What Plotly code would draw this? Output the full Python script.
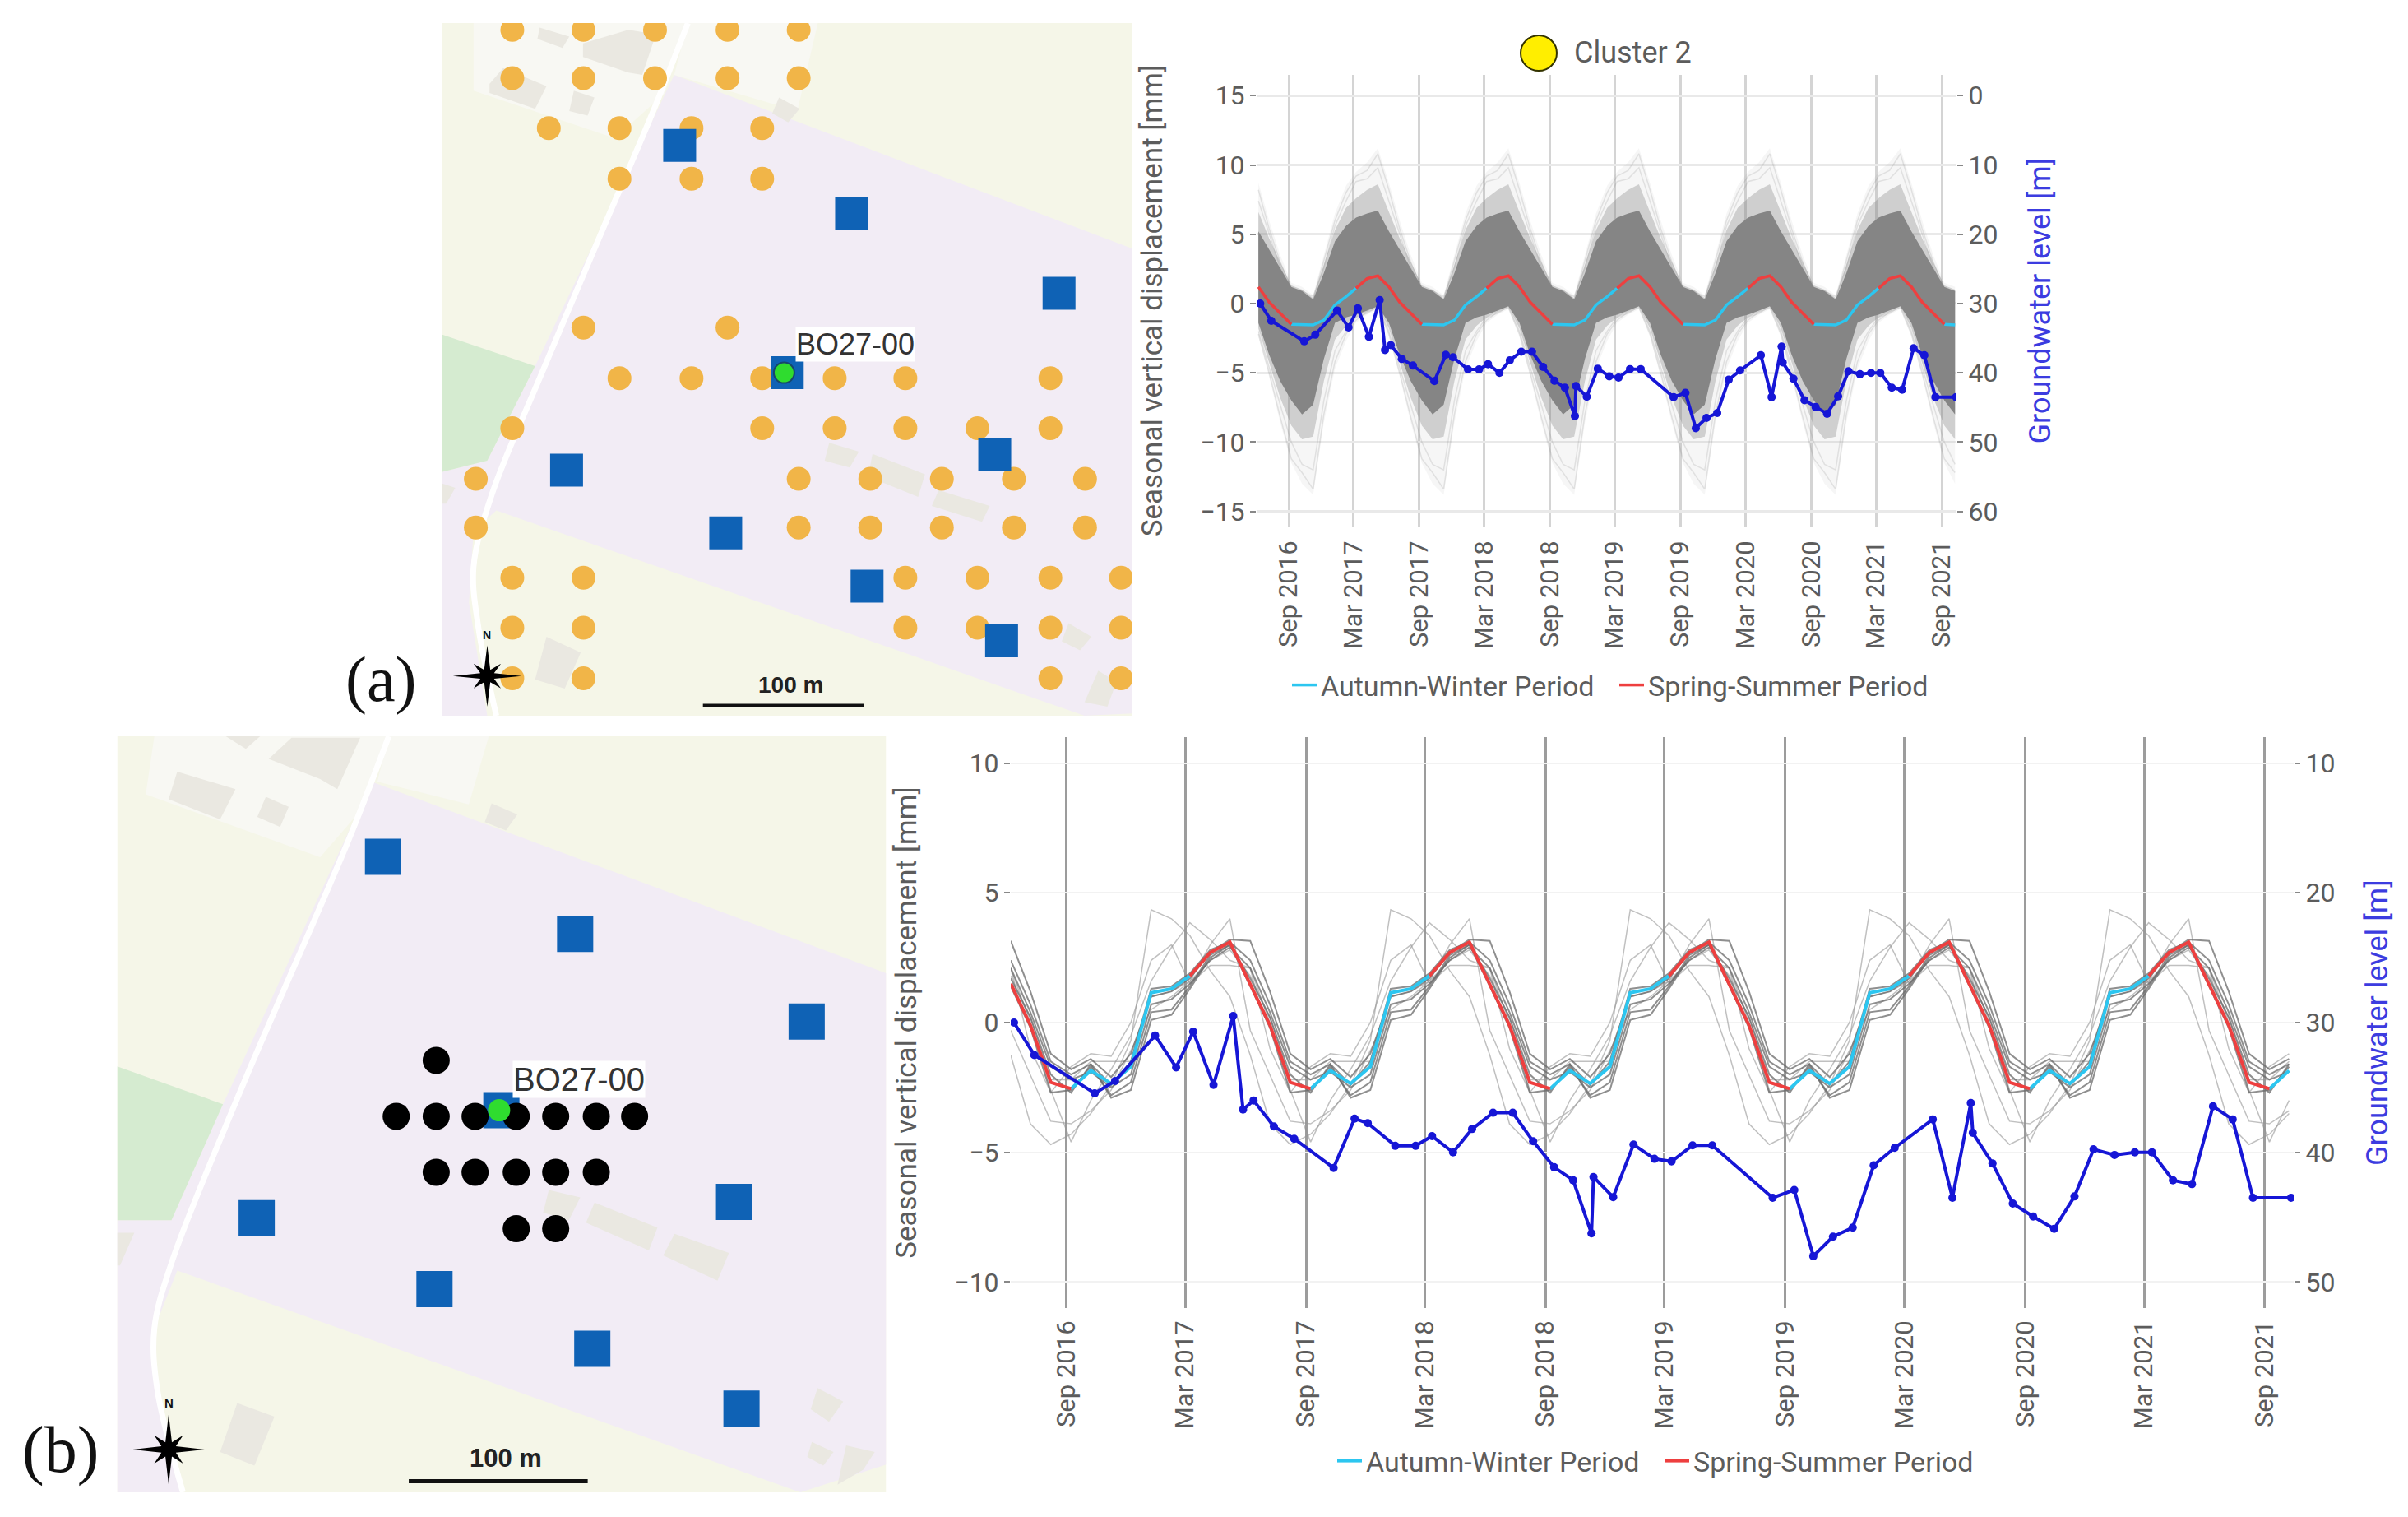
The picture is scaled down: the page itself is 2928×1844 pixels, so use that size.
import plotly.graph_objects as go

W, H = 2928, 1844
FONT = "Roboto"
TEXT = "#5c5c5c"
GW_BLUE = "#1616d6"
GW_TITLE = "#3c3ce0"
CYAN = "#2cc6f0"
RED = "#ee3f3f"

# monthly dates of the seasonal series, Jun 2016 - Oct 2021
dates = [f"{2016 + (5 + i) // 12}-{(5 + i) % 12 + 1:02d}-08" for i in range(65)]
tick_dates = ["2016-09-01", "2017-03-01", "2017-09-01", "2018-03-01", "2018-09-01", "2019-03-01",
              "2019-09-01", "2020-03-01", "2020-09-01", "2021-03-01", "2021-09-01"]
tick_text = ["Sep 2016", "Mar 2017", "Sep 2017", "Mar 2018", "Sep 2018", "Mar 2019",
             "Sep 2019", "Mar 2020", "Sep 2020", "Mar 2021", "Sep 2021"]

# groundwater level [m], same well in both panels
gw_dates = ["2016-06-13", "2016-07-14", "2016-10-14", "2016-11-14", "2017-01-14", "2017-02-15",
            "2017-03-13", "2017-04-13", "2017-05-13", "2017-05-28", "2017-06-13", "2017-07-14",
            "2017-08-14", "2017-10-13", "2017-11-14", "2017-12-04", "2018-01-15", "2018-02-15",
            "2018-03-12", "2018-04-13", "2018-05-12", "2018-06-13", "2018-07-13", "2018-08-13",
            "2018-09-14", "2018-10-13", "2018-11-10", "2018-11-13", "2018-12-13", "2019-01-13",
            "2019-02-14", "2019-03-12", "2019-04-13", "2019-05-13", "2019-08-13", "2019-09-15",
            "2019-10-14", "2019-11-13", "2019-12-13", "2020-01-14", "2020-02-15", "2020-04-13",
            "2020-05-13", "2020-06-10", "2020-06-13", "2020-07-13", "2020-08-13", "2020-09-13",
            "2020-10-15", "2020-11-15", "2020-12-14", "2021-01-15", "2021-02-15", "2021-03-13",
            "2021-04-14", "2021-05-13", "2021-06-14", "2021-07-14", "2021-08-14", "2021-10-11"]
gw_level = [30, 32.5, 35.45, 34.5, 31, 33.45, 30.7, 34.8, 29.5, 36.7, 36, 38, 38.95, 41.2, 37.4, 37.75,
            39.5, 39.5, 38.75, 40, 38.2, 36.95, 36.95, 39.15, 41.15, 42.15, 46.25, 41.9, 43.45, 39.4,
            40.5, 40.7, 39.46, 39.46, 43.5, 42.9, 48, 46.5, 45.8, 41, 39.65, 37.46, 43.5, 36.2, 38.5,
            40.85, 43.95, 44.95, 45.9, 43.4, 39.77, 40.2, 40, 40, 42.15, 42.45, 36.45, 37.46, 43.5, 43.5]

# one seasonal year, Jun to May
a_mean = [1.2, 0.1, -0.7, -1.5, -1.55, -1.55, -1.2, -0.1, 0.5, 1.1, 1.8, 2.0]
a_dense_up = [5.2, 3.9, 2.5, 1.2, 0.9, 0.3, 2.2, 4.5, 5.6, 6.2, 6.5, 6.7]
a_dense_lo = [-1.4, -3.7, -5.6, -7.0, -8.0, -7.3, -4.0, -1.4, -1.0, -0.8, -0.5, -0.2]
a_mid_up = [6.6, 4.7, 3.0, 1.3, 1.0, 0.4, 2.8, 5.3, 6.9, 7.6, 8.2, 8.6]
a_mid_lo = [-1.8, -4.3, -6.8, -8.8, -9.8, -9.6, -5.6, -2.6, -1.6, -1.0, -0.6, -0.2]
a_faint_up = [8.7, 6.0, 3.5, 1.5, 1.2, 0.6, 3.5, 6.5, 8.5, 9.5, 10.2, 11.2]
a_faint_lo = [-2.4, -5.3, -8.6, -11.5, -13.0, -13.8, -8.6, -4.7, -2.7, -1.4, -0.8, -0.4]
# a few of the outlying points of the cluster, visible at the tips of the cloud
a_outliers = [[8.2, 5.4, 3.0, 1.1, 0.8, 0.3, 3.1, 6.0, 8.0, 9.2, 9.6, 10.8],
              [7.4, 5.0, 2.6, 0.9, 0.9, 0.5, 2.6, 5.6, 7.4, 8.8, 9.0, 9.8],
              [-2.2, -5.0, -8.2, -11.2, -12.2, -13.4, -8.0, -4.2, -2.2, -1.2, -0.6, -0.3],
              [-2.0, -4.6, -7.4, -10.0, -11.6, -12.0, -7.0, -3.4, -2.0, -1.0, -0.7, -0.2]]

# panel (b): mean of the cluster and the ten series around it, Jun to May
b_mean = [1.5, -0.1, -2.3, -2.55, -1.85, -2.35, -1.7, 1.15, 1.3, 1.8, 2.7, 3.1]
b_dark = [[3.15, 1.2, -1.2, -1.8, -1.4, -2.1, -1.2, 1.0, 1.2, 1.7, 2.7, 3.2],
          [1.7, 0.2, -2.0, -2.7, -1.6, -2.9, -2.6, 0.1, 0.3, 1.3, 2.5, 3.0],
          [1.4, -0.2, -2.7, -2.6, -1.7, -2.8, -2.3, 0.4, 0.5, 1.4, 2.6, 3.0],
          [2.1, 0.4, -1.7, -2.2, -1.9, -2.5, -2.0, 0.7, 0.9, 1.5, 2.4, 2.9],
          [2.4, 0.7, -1.5, -2.0, -1.6, -2.4, -1.5, 1.3, 1.4, 1.9, 2.8, 3.1]]
b_light = [[-1.25, -3.9, -4.7, -4.3, -3.5, -2.4, -0.7, 4.35, 4.0, 3.35, 2.0, 1.0],
           [2.1, 0.0, -2.6, -4.6, -3.0, -1.8, -0.5, 1.6, 2.9, 3.85, 3.2, 2.4],
           [-0.3, -2.0, -3.8, -3.9, -3.4, -2.6, -1.1, 0.5, 1.0, 1.6, 3.0, 4.0],
           [2.1, -1.0, -2.7, -1.7, -1.2, -1.3, 0.0, 2.4, 3.0, 1.5, 2.2, 2.2],
           [1.8, 0.2, -2.2, -2.2, -1.5, -1.5, -1.5, 1.0, 1.2, 1.6, 2.4, 2.8]]

# map (a), in map units
a_orange_x = [185, 341, 498, 657, 813, 185, 341, 498, 657, 813, 265, 420, 578, 733, 420, 578, 733, 341, 657,
              420, 578, 733, 892, 1047, 1365, 185, 733, 892, 1047, 1205, 1365,
              105, 813, 970, 1127, 1285, 1441, 105, 813, 970, 1127, 1285, 1441,
              185, 341, 1047, 1205, 1365, 1520, 185, 341, 1047, 1205, 1365, 1520, 185, 341, 1365, 1520]
a_orange_y = [30] * 5 + [137] * 5 + [248] * 4 + [360] * 3 + [690] * 2 + [802] * 6 + [913] * 6 + [1025] * 6 \
    + [1133] * 6 + [1244] * 6 + [1355] * 6 + [1467] * 4
a_wells_x = [552, 929, 1384, 788, 1243, 304, 653, 963, 1258]
a_wells_y = [286, 438, 614, 790, 972, 1006, 1145, 1263, 1384]
a_target = (781, 790)

# map (b), in map units
b_black_x = [763, 693, 763, 831, 903, 972, 1043, 1110, 763, 831, 903, 972, 1043, 903, 972]
b_black_y = [668] + [779] * 7 + [890] * 5 + [1002] * 2
b_wells_x = [670, 1006, 1411, 877, 1284, 449, 760, 1036, 1297]
b_wells_y = [264, 417, 591, 767, 949, 981, 1122, 1240, 1359]
b_target = (873, 767)

a_frame = [(30, 15), (1545, 15), (1545, 1550), (30, 1550)]
a_land = [(1545, 515), (1545, 1545), (1440, 1550), (150, 1095), (100, 1140), (90, 1300), (130, 1550), (30, 1550),
          (30, 1010), (130, 985), (235, 775), (540, 130)]
a_green = [(30, 705), (235, 775), (130, 985), (30, 1010)]
a_yards = [[(100, 15), (565, 15), (520, 170), (410, 270), (100, 165)], [(570, 15), (855, 15), (810, 210), (540, 130)]]
a_road = [(570, 15), (490, 220), (380, 480), (250, 790), (140, 1060), (100, 1220), (110, 1350), (150, 1550)]
a_houses = [[(245, 25), (310, 45), (295, 70), (240, 50)],
            [(340, 60), (440, 30), (500, 40), (470, 130), (440, 125), (340, 90)],
            [(135, 150), (165, 115), (260, 155), (235, 205), (135, 170)],
            [(320, 165), (365, 180), (350, 220), (310, 210)],
            [(770, 180), (815, 205), (790, 235), (755, 215)],
            [(880, 945), (945, 965), (925, 1000), (870, 985)],
            [(975, 970), (1090, 1015), (1075, 1065), (965, 1020)],
            [(1120, 1050), (1232, 1085), (1215, 1120), (1105, 1085)],
            [(260, 1375), (335, 1410), (300, 1490), (235, 1470)],
            [(1405, 1345), (1455, 1375), (1430, 1405), (1390, 1385)],
            [(1470, 1450), (1510, 1475), (1490, 1530), (1440, 1520)],
            [(30, 1035), (60, 1045), (40, 1080), (30, 1080)]]

b_frame = [(205, 25), (1550, 25), (1550, 1525), (205, 1525)]
b_land = [(1550, 495), (1550, 1470), (1400, 1525), (310, 1085), (270, 1200), (275, 1320), (320, 1525), (205, 1525),
          (205, 985), (300, 985), (390, 755), (650, 115)]
b_green = [(205, 680), (390, 755), (300, 985), (205, 985)]
b_yards = [[(270, 25), (680, 25), (640, 160), (560, 265), (255, 140)], [(680, 25), (855, 25), (820, 160), (660, 115)]]
b_road = [(680, 25), (610, 230), (420, 730), (300, 1070), (270, 1200), (275, 1320), (320, 1525)]
b_houses = [[(395, 25), (455, 25), (430, 50)],
            [(510, 28), (630, 28), (590, 130), (560, 110), (470, 70)],
            [(310, 95), (412, 130), (385, 190), (295, 150)],
            [(465, 145), (505, 165), (490, 205), (450, 185)],
            [(860, 158), (905, 180), (885, 212), (848, 195)],
            [(960, 925), (1015, 940), (995, 985), (950, 970)],
            [(1040, 950), (1150, 1000), (1135, 1045), (1025, 990)],
            [(1180, 1012), (1275, 1050), (1255, 1105), (1160, 1055)],
            [(415, 1348), (480, 1375), (445, 1472), (385, 1445)],
            [(1430, 1318), (1475, 1345), (1450, 1385), (1418, 1360)],
            [(1420, 1425), (1458, 1445), (1440, 1472), (1412, 1455)],
            [(1480, 1432), (1530, 1445), (1510, 1480), (1465, 1510)],
            [(205, 1010), (235, 1010), (210, 1075), (205, 1075)]]


def px_x(p):
    return p / W


def px_y(p):
    return 1 - p / H


def season(cycle):
    return (cycle * 6)[:65]


def band(upper, lower, color, xa, ya):
    up, lo = season(upper), season(lower)
    return go.Scatter(x=dates + dates[::-1], y=up + lo[::-1], mode="lines", fill="toself", fillcolor=color,
                      line=dict(width=0), hoverinfo="skip", showlegend=False, xaxis=xa, yaxis=ya)


def add_periods(values, width, xa, ya, legend):
    series = season(values)
    months = [int(d[5:7]) for d in dates]
    cold = [v if m >= 9 or m <= 3 else None for v, m in zip(series, months)]
    warm = [v if 3 <= m <= 9 else None for v, m in zip(series, months)]
    fig.add_trace(go.Scatter(x=dates, y=cold, mode="lines", name="Autumn-Winter Period", legend=legend,
                             line=dict(color=CYAN, width=width), xaxis=xa, yaxis=ya))
    fig.add_trace(go.Scatter(x=dates, y=warm, mode="lines", name="Spring-Summer Period", legend=legend,
                             line=dict(color=RED, width=width), xaxis=xa, yaxis=ya))


def add_gw(xa, ya, width, size):
    fig.add_trace(go.Scatter(x=gw_dates, y=gw_level, mode="lines+markers", showlegend=False,
                             line=dict(color=GW_BLUE, width=width), marker=dict(color=GW_BLUE, size=size),
                             xaxis=xa, yaxis=ya))


def poly(points, color, xa, ya):
    xs = [p[0] for p in points] + [points[0][0]]
    ys = [p[1] for p in points] + [points[0][1]]
    fig.add_trace(go.Scatter(x=xs, y=ys, mode="lines", fill="toself", fillcolor=color, line=dict(width=0),
                             hoverinfo="skip", showlegend=False, xaxis=xa, yaxis=ya))


def add_base_map(frame, land, green, yards, road, houses, xa, ya):
    poly(frame, "#f5f6e8", xa, ya)
    poly(land, "#f2ecf5", xa, ya)
    for yard in yards:
        poly(yard, "#f8f8f3", xa, ya)
    poly(green, "#d5ebd0", xa, ya)
    for house in houses:
        poly(house, "#eae8e1", xa, ya)
    fig.add_trace(go.Scatter(x=[p[0] for p in road], y=[p[1] for p in road], mode="lines", showlegend=False,
                             line=dict(color="white", width=7, shape="spline"), hoverinfo="skip", xaxis=xa, yaxis=ya))


def add_compass(cx, cy, long_x, long_y, xa, ya):
    star = []
    for dx, dy in [(0, -1), (0.09, -0.2), (0.4, -0.4), (0.2, -0.09), (1, 0), (0.2, 0.09), (0.4, 0.4), (0.09, 0.2),
                   (0, 1), (-0.09, 0.2), (-0.4, 0.4), (-0.2, 0.09), (-1, 0), (-0.2, -0.09), (-0.4, -0.4), (-0.09, -0.2)]:
        star.append((cx + dx * long_x, cy + dy * long_y))
    poly(star, "black", xa, ya)


fig = go.Figure()

# panel (a) chart
fig.add_trace(band(a_faint_up, a_faint_lo, "rgba(128,128,128,0.07)", "x", "y"))
for line in a_outliers:
    fig.add_trace(go.Scatter(x=dates, y=season(line), mode="lines", showlegend=False, hoverinfo="skip",
                             line=dict(color="rgba(128,128,128,0.18)", width=1.5), xaxis="x", yaxis="y"))
fig.add_trace(band(a_mid_up, a_mid_lo, "rgba(128,128,128,0.33)", "x", "y"))
fig.add_trace(band(a_dense_up, a_dense_lo, "#858585", "x", "y"))
add_periods(a_mean, 3.5, "x", "y", "legend")
add_gw("x", "y2", 4, 10)

# panel (b) chart
for line in b_light:
    fig.add_trace(go.Scatter(x=dates, y=season(line), mode="lines", showlegend=False, hoverinfo="skip",
                             line=dict(color="rgba(150,150,150,0.6)", width=1.5), xaxis="x2", yaxis="y3"))
for line in b_dark:
    fig.add_trace(go.Scatter(x=dates, y=season(line), mode="lines", showlegend=False, hoverinfo="skip",
                             line=dict(color="rgba(105,105,105,0.75)", width=2), xaxis="x2", yaxis="y3"))
add_periods(b_mean, 4, "x2", "y3", "legend2")
add_gw("x2", "y4", 4, 10)

# map (a)
add_base_map(a_frame, a_land, a_green, a_yards, a_road, a_houses, "x3", "y5")
fig.add_trace(go.Scatter(x=a_orange_x, y=a_orange_y, mode="markers", showlegend=False, xaxis="x3", yaxis="y5",
                         marker=dict(color="#f1b548", size=29)))
fig.add_trace(go.Scatter(x=a_wells_x, y=a_wells_y, mode="markers", showlegend=False, xaxis="x3", yaxis="y5",
                         marker=dict(color="#0f62b5", size=40, symbol="square")))
fig.add_trace(go.Scatter(x=[a_target[0]], y=[a_target[1]], mode="markers", showlegend=False, xaxis="x3", yaxis="y5",
                         marker=dict(color="#2fdc2f", size=25, line=dict(color="#17476b", width=2))))
add_compass(130, 1462, 75, 68, "x3", "y5")
fig.add_trace(go.Scatter(x=[603, 957], y=[1527, 1527], mode="lines", showlegend=False, xaxis="x3", yaxis="y5",
                         line=dict(color="#111111", width=4)))

# map (b)
add_base_map(b_frame, b_land, b_green, b_yards, b_road, b_houses, "x4", "y6")
fig.add_trace(go.Scatter(x=b_wells_x, y=b_wells_y, mode="markers", showlegend=False, xaxis="x4", yaxis="y6",
                         marker=dict(color="#0f62b5", size=44, symbol="square")))
fig.add_trace(go.Scatter(x=b_black_x, y=b_black_y, mode="markers", showlegend=False, xaxis="x4", yaxis="y6",
                         marker=dict(color="black", size=33)))
fig.add_trace(go.Scatter(x=[b_target[0]], y=[b_target[1]], mode="markers", showlegend=False, xaxis="x4", yaxis="y6",
                         marker=dict(color="#2fdc2f", size=27)))
add_compass(295, 1440, 63, 70, "x4", "y6")
fig.add_trace(go.Scatter(x=[715, 1028], y=[1503, 1503], mode="lines", showlegend=False, xaxis="x4", yaxis="y6",
                         line=dict(color="#111111", width=5)))


def date_axis(left, right, rng, grid, grid_width, standoff):
    return dict(domain=[px_x(left), px_x(right)], range=rng, type="date", tickmode="array",
                tickvals=tick_dates, ticktext=tick_text, tickangle=-90, showgrid=True, gridcolor=grid,
                gridwidth=grid_width, zeroline=False, showline=False, ticks="outside", ticklen=standoff,
                tickcolor="rgba(0,0,0,0)", tickfont=dict(family=FONT, size=31, color=TEXT))


def value_axis(top, bottom, rng, vals, grid, grid_width, title, standoff, size=35, color=TEXT, right=False, over=None, labels=None):
    axis = dict(domain=[px_y(bottom), px_y(top)], range=rng, tickmode="array", tickvals=vals, zeroline=False,
                showline=False, showgrid=grid is not None, ticks="outside", ticklen=7, tickcolor="#888888", tickwidth=2,
                tickfont=dict(family=FONT, size=32, color=TEXT),
                title=dict(text=title, standoff=standoff, font=dict(family=FONT, size=size, color=color)))
    if grid is not None:
        axis.update(gridcolor=grid, gridwidth=grid_width)
    if labels is not None:
        axis["ticktext"] = labels
    if right:
        axis.update(side="right", overlaying=over)
    return axis


map_axis = dict(visible=False, fixedrange=True)
legend_font = dict(family=FONT, size=34, color=TEXT)

fig.update_layout(
    width=W, height=H, margin=dict(l=0, r=0, t=0, b=0, autoexpand=False), showlegend=True,
    paper_bgcolor="white", plot_bgcolor="white",
    xaxis=date_axis(1528, 2379, ["2016-06-03", "2021-10-12"], "#d4d4d4", 2.5, 4) | dict(anchor="y"),
    yaxis=value_axis(91, 640, [-16.09, 16.5], [-15, -10, -5, 0, 5, 10, 15], "#e9e9e9", 3,
                     "Seasonal vertical displacement [mm]", 35,
                     labels=["\u221215", "\u221210", "\u22125", "0", "5", "10", "15"]) | dict(anchor="x"),
    yaxis2=value_axis(91, 640, [62.18, -3], [0, 10, 20, 30, 40, 50, 60], None, 0,
                      "Groundwater level [m]", 39, size=36, color=GW_TITLE, right=True, over="y") | dict(anchor="x"),
    xaxis2=date_axis(1229, 2789, ["2016-06-08", "2021-10-15"], "#9c9c9c", 3, 2) | dict(anchor="y3"),
    yaxis3=value_axis(896, 1590, [-11, 11], [-10, -5, 0, 5, 10], "#f2f2f2", 2,
                      "Seasonal vertical displacement [mm]", 35,
                      labels=["\u221210", "\u22125", "0", "5", "10"]) | dict(anchor="x2"),
    yaxis4=value_axis(896, 1590, [52, 8], [10, 20, 30, 40, 50], None, 0,
                      "Groundwater level [m]", 39, size=36, color=GW_TITLE, right=True, over="y3") | dict(anchor="x2"),
    xaxis3=map_axis | dict(domain=[px_x(537), px_x(1377)], range=[30, 1545], anchor="y5"),
    yaxis5=map_axis | dict(domain=[px_y(870), px_y(28)], range=[1550, 15], anchor="x3"),
    xaxis4=map_axis | dict(domain=[px_x(142.5), px_x(1077.5)], range=[205, 1550], anchor="y6"),
    yaxis6=map_axis | dict(domain=[px_y(1814), px_y(895)], range=[1525, 25], anchor="x4"),
    legend=dict(orientation="h", x=px_x(1566), y=px_y(833), xanchor="left", yanchor="middle", itemwidth=30,
                font=legend_font, bgcolor="rgba(0,0,0,0)", entrywidth=353, entrywidthmode="pixels"),
    legend2=dict(orientation="h", x=px_x(1621), y=px_y(1776), xanchor="left", yanchor="middle", itemwidth=30,
                 font=legend_font, bgcolor="rgba(0,0,0,0)", entrywidth=353, entrywidthmode="pixels"),
    shapes=[dict(type="circle", xref="paper", yref="paper", x0=px_x(1849), x1=px_x(1893), y0=px_y(86), y1=px_y(43),
                 fillcolor="#ffee00", line=dict(color="#333300", width=2))],
    annotations=[
        dict(text="Cluster 2", xref="paper", yref="paper", x=px_x(1912), y=px_y(64), xanchor="left", yanchor="middle",
             showarrow=False, font=dict(family=FONT, size=36, color=TEXT)),
        dict(text="BO27-00", xref="x3", yref="y5", x=938, y=727, showarrow=False, bgcolor="white", borderpad=0,
             font=dict(family="Liberation Sans", size=36, color="#333333")),
        dict(text="BO27-00", xref="x4", yref="y6", x=1013, y=705, showarrow=False, bgcolor="white", borderpad=0,
             font=dict(family="Liberation Sans", size=40, color="#333333")),
        dict(text="<b>100 m</b>", xref="x3", yref="y5", x=795, y=1482, showarrow=False,
             font=dict(family="Liberation Sans", size=28, color="#222222")),
        dict(text="<b>100 m</b>", xref="x4", yref="y6", x=885, y=1458, showarrow=False,
             font=dict(family="Liberation Sans", size=31, color="#222222")),
        dict(text="<b>N</b>", xref="x3", yref="y5", x=130, y=1372, showarrow=False,
             font=dict(family="Liberation Sans", size=14, color="#111111")),
        dict(text="<b>N</b>", xref="x4", yref="y6", x=295, y=1348, showarrow=False,
             font=dict(family="Liberation Sans", size=15, color="#111111")),
        dict(text="(a)", xref="paper", yref="paper", x=px_x(463), y=px_y(825), xanchor="center", yanchor="middle",
             showarrow=False, font=dict(family="Liberation Serif", size=78, color="#111111")),
        dict(text="(b)", xref="paper", yref="paper", x=px_x(73), y=px_y(1762), xanchor="center", yanchor="middle",
             showarrow=False, font=dict(family="Liberation Serif", size=80, color="#111111")),
    ],
)

fig.write_html("out.html", config={"displayModeBar": False}, post_script="document.body.style.margin='0';")
